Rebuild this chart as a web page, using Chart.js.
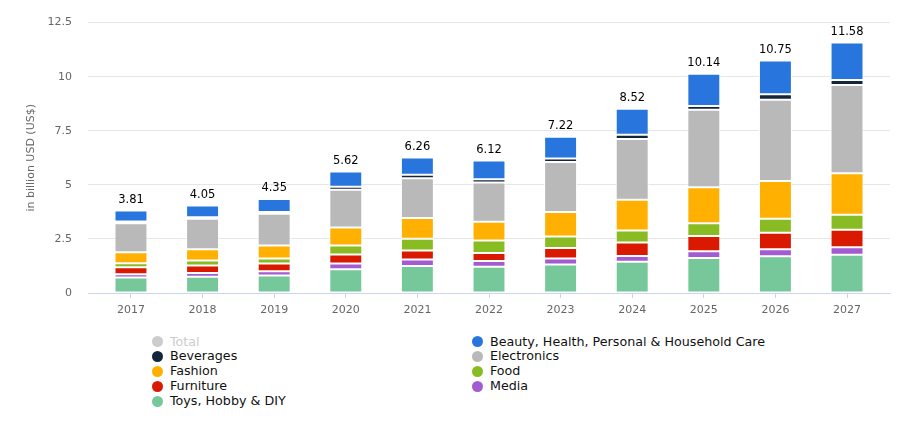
<!DOCTYPE html>
<html>
<head>
<meta charset="utf-8">
<script src="https://cdn.jsdelivr.net/npm/chart.js@4"></script>
<style>
  html, body { margin: 0; padding: 0; background: #fff; }
  #wrap { position: relative; width: 900px; height: 421px; overflow: hidden; }
  #box { position: absolute; left: 0; top: 0; width: 900px; height: 325px; }
  #legend { position: absolute; left: 152px; top: 334.5px; display: grid;
            grid-template-columns: 320px auto; grid-auto-rows: 14.8px;
            font-family: "DejaVu Sans", sans-serif; font-size: 12.7px; color: #111; }
  .item { display: flex; align-items: center; white-space: nowrap; line-height: 14.8px; }
  .dot { width: 11px; height: 11px; border-radius: 50%; margin-right: 7px; flex: none; }
</style>
</head>
<body>
<div id="wrap">
  <div id="box"><canvas id="c"></canvas></div>
  <div id="legend"></div>
</div>
<script>
// ---- data ----
const years = ["2017","2018","2019","2020","2021","2022","2023","2024","2025","2026","2027"];
const totals = [3.81, 4.05, 4.35, 5.62, 6.26, 6.12, 7.22, 8.52, 10.14, 10.75, 11.58];
const toys        = [0.72, 0.75, 0.81, 1.10, 1.25, 1.21, 1.32, 1.45, 1.62, 1.70, 1.77];
const media       = [0.15, 0.17, 0.20, 0.26, 0.30, 0.27, 0.27, 0.26, 0.31, 0.32, 0.34];
const furniture   = [0.32, 0.35, 0.35, 0.42, 0.42, 0.37, 0.49, 0.62, 0.70, 0.76, 0.81];
const food        = [0.19, 0.23, 0.23, 0.42, 0.54, 0.58, 0.53, 0.56, 0.59, 0.65, 0.70];
const fashion     = [0.50, 0.52, 0.61, 0.83, 0.96, 0.86, 1.14, 1.42, 1.67, 1.75, 1.92];
const electronics = [1.35, 1.41, 1.46, 1.74, 1.84, 1.82, 2.31, 2.81, 3.58, 3.75, 4.08];
const beverages   = [0.07, 0.07, 0.09, 0.14, 0.16, 0.15, 0.16, 0.19, 0.17, 0.26, 0.23];
const beauty      = [0.51, 0.55, 0.60, 0.71, 0.79, 0.86, 1.00, 1.21, 1.50, 1.56, 1.73];
const yTicks = [0, 2.5, 5, 7.5, 10, 12.5];

// stacking order bottom -> top
const series = [
  { name: "Toys, Hobby & DIY", data: toys, color: "#76c89a" },
  { name: "Media", data: media, color: "#a35bd1" },
  { name: "Furniture", data: furniture, color: "#d91a00" },
  { name: "Food", data: food, color: "#89bc23" },
  { name: "Fashion", data: fashion, color: "#ffb000" },
  { name: "Electronics", data: electronics, color: "#b9b9b9" },
  { name: "Beverages", data: beverages, color: "#13263a" },
  { name: "Beauty, Health, Personal & Household Care", data: beauty, color: "#2876dd" }
];
// legend order (row-major, 2 columns)
const legendOrder = ["Total", "Beauty, Health, Personal & Household Care", "Beverages", "Electronics",
                     "Fashion", "Food", "Furniture", "Media", "Toys, Hobby & DIY"];

const totalLabels = {
  id: 'totalLabels',
  afterDatasetsDraw(chart) {
    const ctx = chart.ctx, xs = chart.scales.x, ys = chart.scales.y;
    ctx.save();
    ctx.font = '11.5px "DejaVu Sans", sans-serif';
    ctx.fillStyle = '#000';
    ctx.textAlign = 'center';
    ctx.textBaseline = 'bottom';
    totals.forEach((t, i) => {
      ctx.fillText(t.toFixed(2), xs.getPixelForValue(i), ys.getPixelForValue(t) - 5);
    });
    ctx.restore();
  }
};

new Chart(document.getElementById('c'), {
  type: 'bar',
  data: {
    datasets: series.map(s => ({
      label: s.name,
      data: s.data.map((v, i) => ({ x: i, y: v })),
      backgroundColor: s.color,
      borderColor: '#ffffff',
      borderWidth: 1,
      borderSkipped: false,
      barPercentage: 0.46,
      categoryPercentage: 1
    }))
  },
  options: {
    responsive: true,
    maintainAspectRatio: false,
    animation: false,
    layout: { padding: { top: 20, right: 10, left: 0, bottom: 0 } },
    plugins: { legend: { display: false }, tooltip: { enabled: false } },
    scales: {
      x: {
        type: 'linear',
        stacked: true,
        offset: false,
        min: -0.6,
        max: 10.6,
        afterBuildTicks: s => { s.ticks = years.map((_, i) => ({ value: i })); },
        afterFit: s => { s.height = 32; },
        grid: { offset: false, drawOnChartArea: false, drawTicks: true, tickLength: 5, color: '#ccd6eb' },
        border: { display: true, color: '#ccd6eb' },
        ticks: {
          padding: 6,
          color: '#666',
          font: { family: 'DejaVu Sans', size: 11 },
          maxRotation: 0,
          autoSkip: false,
          callback: v => years[v] ?? ''
        }
      },
      y: {
        stacked: true,
        min: 0,
        max: 12.5,
        afterBuildTicks: s => { s.ticks = yTicks.map(v => ({ value: v })); },
        afterFit: s => { s.width = 88; },
        grid: { color: '#e6e6e6', drawTicks: false },
        border: { display: false },
        ticks: {
          padding: 16,
          color: '#666',
          font: { family: 'DejaVu Sans', size: 11 },
          callback: v => String(v)
        },
        title: {
          display: true,
          text: 'in billion USD (US$)',
          color: '#666',
          font: { family: 'DejaVu Sans', size: 11 },
          padding: { top: 25, bottom: 0 }
        }
      }
    }
  },
  plugins: [totalLabels]
});

// HTML legend
const lg = document.getElementById('legend');
legendOrder.forEach(name => {
  const s = series.find(x => x.name === name);
  const el = document.createElement('div');
  el.className = 'item';
  const dot = document.createElement('span');
  dot.className = 'dot';
  dot.style.background = s ? s.color : '#cccccc';
  const tx = document.createElement('span');
  tx.textContent = name;
  if (!s) tx.style.color = '#cccccc';
  el.appendChild(dot); el.appendChild(tx);
  lg.appendChild(el);
});
</script>
</body>
</html>
